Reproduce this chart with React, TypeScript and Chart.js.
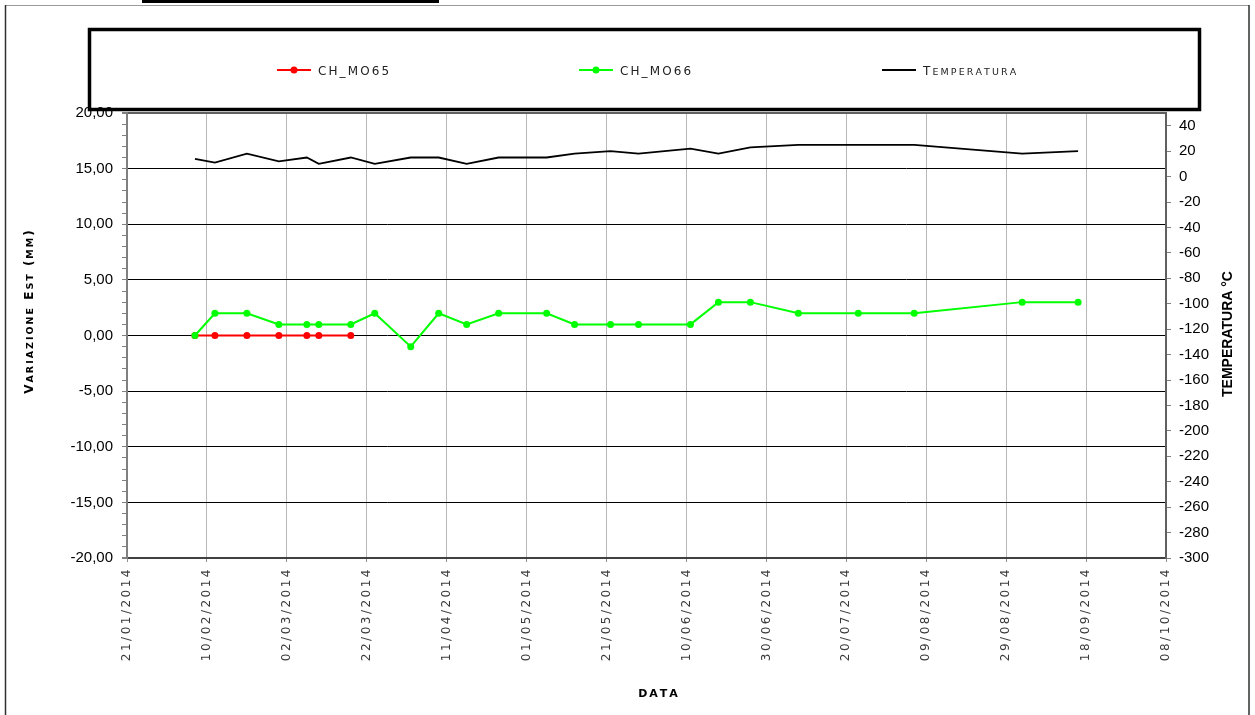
import React, { useEffect, useRef } from "react";
import { Chart, registerables } from "chart.js";

Chart.register(...registerables);

// ---------- data ----------
const X_START = "2014-01-21";
const X_END_DAYS = 260;
const X_STEP_DAYS = 20;

const mo65Dates = ["2014-02-07", "2014-02-12", "2014-02-20", "2014-02-28", "2014-03-07", "2014-03-10", "2014-03-18"];
const mo65Values = [0, 0, 0, 0, 0, 0, 0];

const mo66Dates = [
  "2014-02-07", "2014-02-12", "2014-02-20", "2014-02-28", "2014-03-07", "2014-03-10",
  "2014-03-18", "2014-03-24", "2014-04-02", "2014-04-09", "2014-04-16", "2014-04-24",
  "2014-05-06", "2014-05-13", "2014-05-22", "2014-05-29", "2014-06-11", "2014-06-18",
  "2014-06-26", "2014-07-08", "2014-07-23", "2014-08-06", "2014-09-02", "2014-09-16",
];
const mo66Values = [0, 2, 2, 1, 1, 1, 1, 2, -1, 2, 1, 2, 2, 1, 1, 1, 1, 3, 3, 2, 2, 2, 3, 3];

const tempDates = mo66Dates;
const tempValues = [14, 11, 18, 12, 15, 10, 15, 10, 15, 15, 10, 15, 15, 18, 20, 18, 22, 18, 23, 25, 25, 25, 18, 20];

const Y_MIN = -20;
const Y_MAX = 20;
const Y_MAJOR = 5;
const Y_MINOR = 1;
const T_MIN = -300;
const T_MAX = 50;
const T_STEP = 20;
const T_LAST_LABEL = 40;

const seriesLabels = ["CH_MO65", "CH_MO66", "Temperatura"];
const yTitle = "Variazione Est (mm)";
const y1Title = "TEMPERATURA °C";
const xTitle = "DATA";

// ---------- helpers ----------
const DAY_MS = 86400000;
const startMs = Date.parse(X_START + "T00:00:00Z");
const dayOf = (iso: string) => Math.round((Date.parse(iso + "T00:00:00Z") - startMs) / DAY_MS);
const pad2 = (n: number) => (n < 10 ? "0" + n : "" + n);
const fmtDay = (d: number) => {
  const dt = new Date(startMs + d * DAY_MS);
  return pad2(dt.getUTCDate()) + "/" + pad2(dt.getUTCMonth() + 1) + "/" + dt.getUTCFullYear();
};
const fmtMM = (v: number) => v.toFixed(2).replace(".", ",");

function drawSmallCaps(
  ctx: CanvasRenderingContext2D,
  text: string,
  x: number,
  y: number,
  big: number,
  small: number,
  weight: string,
  family: string,
  spacing: number,
  draw: boolean
) {
  let cx = x;
  const chars = Array.from(text);
  chars.forEach((ch, i) => {
    const lower = ch !== ch.toUpperCase();
    const size = lower ? small : big;
    const c = ch.toUpperCase();
    ctx.font = `${weight} ${size}px ${family}`;
    const w = ctx.measureText(c).width;
    if (draw) ctx.fillText(c, cx, y);
    cx += w + (i < chars.length - 1 ? spacing : 0);
  });
  return cx - x;
}

const decor = {
  id: "decor",
  beforeDraw(chart: any) {
    const ctx = chart.ctx;
    ctx.save();
    ctx.fillStyle = "#ffffff";
    ctx.fillRect(0, 0, chart.width, chart.height);
    ctx.restore();
  },
  afterLayout(chart: any) {
    const sx = chart.scales.x;
    if (sx && !sx.__spaced) {
      const orig = sx.drawLabels;
      sx.drawLabels = function (area: any) {
        const c = this.ctx;
        c.save();
        (c as any).letterSpacing = "2.5px";
        orig.call(this, area);
        c.restore();
      };
      sx.__spaced = true;
    }
  },
  afterDraw(chart: any) {
    const ctx: CanvasRenderingContext2D = chart.ctx;
    const fam = "'DejaVu Sans', sans-serif";
    ctx.save();
    // outer frame
    ctx.strokeStyle = "#9a9a9a";
    ctx.lineWidth = 1;
    ctx.beginPath();
    ctx.moveTo(5, 5.5);
    ctx.lineTo(1249, 5.5);
    ctx.stroke();
    ctx.strokeStyle = "#303030";
    ctx.lineWidth = 1.5;
    ctx.beginPath();
    ctx.moveTo(5.5, 5);
    ctx.lineTo(5.5, 715);
    ctx.moveTo(1249, 5);
    ctx.lineTo(1249, 715);
    ctx.stroke();
    // top cut bar
    ctx.fillStyle = "#000";
    ctx.fillRect(142, 0, 297, 3);

    // legend box
    ctx.strokeStyle = "#000";
    ctx.lineWidth = 3.5;
    ctx.strokeRect(89.5, 29.5, 1110, 80);

    const itemX = [277, 579, 882];
    const ly = 70;
    chart.data.datasets.forEach((ds: any, i: number) => {
      const x0 = itemX[i];
      ctx.strokeStyle = ds.borderColor;
      ctx.lineWidth = 2;
      ctx.beginPath();
      ctx.moveTo(x0, ly);
      ctx.lineTo(x0 + 34, ly);
      ctx.stroke();
      if (ds.pointRadius > 0) {
        ctx.fillStyle = ds.pointBackgroundColor;
        ctx.beginPath();
        ctx.arc(x0 + 17, ly, 3.5, 0, Math.PI * 2);
        ctx.fill();
      }
      ctx.fillStyle = "#222";
      ctx.textAlign = "left";
      ctx.textBaseline = "alphabetic";
      drawSmallCaps(ctx, ds.label, x0 + 41, ly + 4.5, 12, 9.5, "normal", fam, 2.1, true);
    });

    // y title (left), rotated
    ctx.fillStyle = "#000";
    ctx.textAlign = "left";
    ctx.textBaseline = "alphabetic";
    ctx.save();
    ctx.translate(33, 312);
    ctx.rotate(-Math.PI / 2);
    const wy = drawSmallCaps(ctx, yTitle, 0, 0, 12, 9.5, "bold", fam, 2, false);
    drawSmallCaps(ctx, yTitle, -wy / 2, 0, 12, 9.5, "bold", fam, 2, true);
    ctx.restore();

    // y1 title (right), rotated reading upward
    ctx.save();
    ctx.translate(1232, 334);
    ctx.rotate(-Math.PI / 2);
    ctx.font = "bold 14px 'Liberation Sans', Arial, sans-serif";
    ctx.textAlign = "center";
    ctx.fillText(y1Title, 0, 0);
    ctx.restore();

    // x title
    ctx.textAlign = "left";
    const wx = drawSmallCaps(ctx, xTitle, 0, 0, 11, 9.5, "bold", fam, 2, false);
    drawSmallCaps(ctx, xTitle, 658 - wx / 2, 697, 11, 9.5, "bold", fam, 2, true);

    ctx.restore();
  },
};

export default function App() {
  const ref = useRef<HTMLCanvasElement | null>(null);

  useEffect(() => {
    const canvas = ref.current;
    if (!canvas) return;
    const toPts = (dates: string[], vals: number[]) => dates.map((d, i) => ({ x: dayOf(d), y: vals[i] }));

    const chart = new Chart(canvas, {
      type: "line",
      data: {
        datasets: [
          {
            label: seriesLabels[0],
            data: toPts(mo65Dates, mo65Values),
            borderColor: "#ff0000",
            backgroundColor: "#ff0000",
            pointBackgroundColor: "#ff0000",
            pointBorderColor: "#ff0000",
            borderWidth: 2,
            pointRadius: 3.5,
            pointBorderWidth: 0,
            tension: 0,
            yAxisID: "y",
            order: 1,
          },
          {
            label: seriesLabels[1],
            data: toPts(mo66Dates, mo66Values),
            borderColor: "#00ff00",
            backgroundColor: "#00ff00",
            pointBackgroundColor: "#00ff00",
            pointBorderColor: "#00ff00",
            borderWidth: 2,
            pointRadius: 3.5,
            pointBorderWidth: 0,
            tension: 0,
            yAxisID: "y",
            order: 0,
          },
          {
            label: seriesLabels[2],
            data: toPts(tempDates, tempValues),
            borderColor: "#000000",
            backgroundColor: "#000000",
            pointBackgroundColor: "#000000",
            borderWidth: 1.8,
            pointRadius: 0,
            tension: 0,
            yAxisID: "y1",
            order: 2,
          },
        ],
      },
      options: {
        responsive: false,
        animation: false,
        events: [],
        layout: { padding: { top: 113, left: 0, right: 0, bottom: 0 } },
        plugins: {
          legend: { display: false },
          tooltip: { enabled: false },
          title: { display: false },
        },
        scales: {
          x: {
            type: "linear",
            position: "bottom",
            min: 0,
            max: X_END_DAYS,
            afterBuildTicks: (s: any) => {
              const t = [];
              for (let d = 0; d <= X_END_DAYS; d += X_STEP_DAYS) t.push({ value: d });
              s.ticks = t;
            },
            afterFit: (s: any) => {
              s.height = 157;
            },
            ticks: {
              autoSkip: false,
              minRotation: 90,
              maxRotation: 90,
              padding: 5,
              color: "#3a3a3a",
              font: { family: "'DejaVu Sans', sans-serif", size: 12 },
              callback: (v: any) => fmtDay(Number(v)),
            },
            grid: { color: "#b8b8b8", lineWidth: 1, tickLength: 4, tickColor: "#909090" },
            border: { color: "#404040", width: 2 },
          },
          y: {
            type: "linear",
            position: "left",
            min: Y_MIN,
            max: Y_MAX,
            afterBuildTicks: (s: any) => {
              const t = [];
              for (let v = Y_MIN; v <= Y_MAX; v += Y_MINOR) t.push({ value: v });
              s.ticks = t;
            },
            afterFit: (s: any) => {
              s.width = 127;
            },
            ticks: {
              autoSkip: false,
              padding: 9,
              color: "#000",
              font: { family: "'Liberation Sans', Arial, sans-serif", size: 15 },
              callback: (v: any) => (Number(v) % Y_MAJOR === 0 ? fmtMM(Number(v)) : ""),
            },
            grid: {
              color: (c: any) => {
                const v = c.tick ? c.tick.value : 0;
                if (v === Y_MAX || v === Y_MIN) return "#606060";
                return v % Y_MAJOR === 0 ? "#000000" : "rgba(0,0,0,0)";
              },
              lineWidth: (c: any) => {
                const v = c.tick ? c.tick.value : 0;
                return v === Y_MAX || v === Y_MIN ? 2 : 1;
              },
              tickLength: 5,
              tickColor: "#808080",
            },
            border: { color: "#808080", width: 2 },
          },
          y1: {
            type: "linear",
            position: "right",
            min: T_MIN,
            max: T_MAX,
            afterBuildTicks: (s: any) => {
              const t = [];
              for (let v = T_MIN; v <= T_LAST_LABEL; v += T_STEP) t.push({ value: v });
              s.ticks = t;
            },
            afterFit: (s: any) => {
              s.width = 89;
            },
            ticks: {
              autoSkip: false,
              padding: 8,
              color: "#000",
              font: { family: "'Liberation Sans', Arial, sans-serif", size: 15 },
              callback: (v: any) => String(v),
            },
            grid: { drawOnChartArea: false, tickLength: 5, tickColor: "#808080" },
            border: { color: "#606060", width: 2 },
          },
        },
      },
      plugins: [decor as any],
    } as any);

    return () => chart.destroy();
  }, []);

  return (
    <div style={{ position: "absolute", left: 0, top: 0, width: 1255, height: 715, background: "#fff" }}>
      <canvas ref={ref} width={1255} height={715} style={{ display: "block", width: 1255, height: 715 }} />
    </div>
  );
}
